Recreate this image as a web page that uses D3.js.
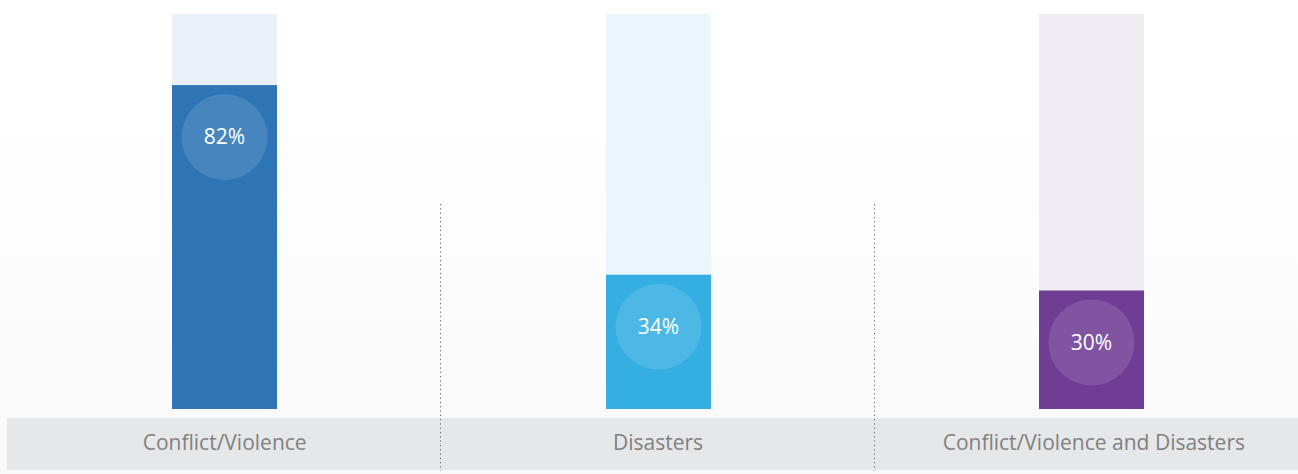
<!DOCTYPE html>
<html>
<head>
<meta charset="utf-8">
<script src="https://cdn.jsdelivr.net/npm/d3@7"></script>
<style>
  html, body { margin: 0; padding: 0; background: #ffffff; }
  svg { display: block; }
</style>
</head>
<body>
<svg id="chart" width="1298" height="474"></svg>
<script>
// Share of displacement by cause
const categories = ["Conflict/Violence", "Disasters", "Conflict/Violence and Disasters"];
const values = [82, 34, 30];
const valueLabels = ["82%", "34%", "30%"];
const barColors = ["#2e75b6", "#35aee2", "#6f3d94"];
const trackColors = ["#e9f0f8", "#ebf5fc", "#efecf3"];

const W = 1298, H = 474;
const svg = d3.select("#chart");

// soft vertical background wash
const defs = svg.append("defs");
const grad = defs.append("linearGradient")
  .attr("id", "bgWash").attr("x1", 0).attr("y1", 0).attr("x2", 0).attr("y2", 1);
grad.append("stop").attr("offset", "0%").attr("stop-color", "#ffffff");
grad.append("stop").attr("offset", "22%").attr("stop-color", "#ffffff");
grad.append("stop").attr("offset", "100%").attr("stop-color", "#f9f9f9");
svg.append("rect").attr("width", W).attr("height", H).attr("fill", "url(#bgWash)");

// each category sits in its own column
const x = d3.scaleBand()
  .domain(categories)
  .range([8, 1308])
  .paddingInner(0)
  .paddingOuter(0);
const barW = 105;
const y = d3.scaleLinear().domain([0, 100]).range([409, 14]);

// label band along the bottom
svg.append("rect")
  .attr("x", 7).attr("y", 418)
  .attr("width", W - 7).attr("height", 52)
  .attr("fill", "#e6e7e9");

// dotted separators between columns
const seps = categories.slice(1).map(c => Math.round(x(c)) - 0.5);
svg.selectAll("line.sep").data(seps).enter().append("line")
  .attr("class", "sep")
  .attr("x1", d => d).attr("x2", d => d)
  .attr("y1", 204).attr("y2", 471)
  .attr("stroke", "#6b6b6b")
  .attr("stroke-width", 1)
  .attr("stroke-dasharray", "1.3 3");

const cx = c => x(c) + x.bandwidth() / 2;
const left = c => Math.round(cx(c) - barW / 2);

const g = svg.selectAll("g.col").data(categories).enter().append("g").attr("class", "col");

// full-height tracks
g.append("rect")
  .attr("x", d => left(d))
  .attr("y", y(100))
  .attr("width", barW)
  .attr("height", y(0) - y(100))
  .attr("fill", (d, i) => trackColors[i]);

// value bars
g.append("rect")
  .attr("x", d => left(d))
  .attr("y", (d, i) => y(values[i]))
  .attr("width", barW)
  .attr("height", (d, i) => y(0) - y(values[i]))
  .attr("fill", (d, i) => barColors[i]);

// value badges
g.append("circle")
  .attr("cx", d => left(d) + barW / 2)
  .attr("cy", (d, i) => y(values[i]) + 52)
  .attr("r", 43)
  .attr("fill", "#ffffff")
  .attr("fill-opacity", 0.12);

g.append("text")
  .attr("x", d => left(d) + barW / 2)
  .attr("y", (d, i) => y(values[i]) + 52)
  .attr("dy", "0.35em")
  .attr("text-anchor", "middle")
  .attr("font-family", "'Open Sans', 'Noto Sans', sans-serif")
  .attr("font-size", 21)
  .attr("fill", "#ffffff")
  .text((d, i) => valueLabels[i]);

// category names
g.append("text")
  .attr("x", (d, i) => cx(d) + (i === 2 ? 2.5 : 0))
  .attr("y", 450)
  .attr("text-anchor", "middle")
  .attr("font-family", "'Open Sans', 'Noto Sans', sans-serif")
  .attr("font-size", 21)
  .attr("fill", "#808080")
  .text(d => d);
</script>
</body>
</html>
